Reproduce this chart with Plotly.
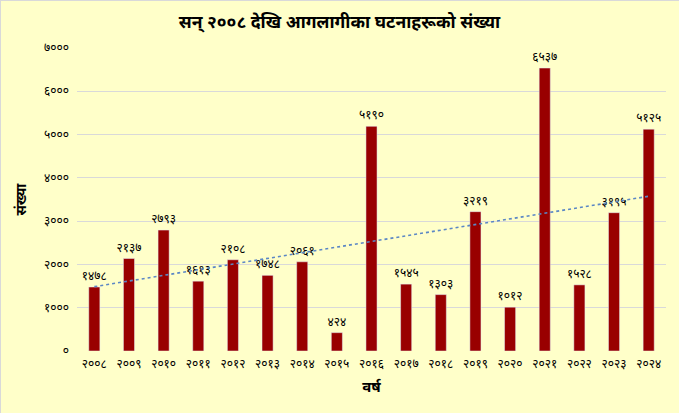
import numpy as np
import plotly.graph_objects as go

years = ["२००८", "२००९", "२०१०", "२०११", "२०१२", "२०१३", "२०१४", "२०१५", "२०१६",
         "२०१७", "२०१८", "२०१९", "२०२०", "२०२१", "२०२२", "२०२३", "२०२४"]
counts = [1478, 2137, 2793, 1613, 2108, 1748, 2061, 424, 5190,
          1545, 1303, 3219, 1012, 6537, 1528, 3195, 5125]
y_ticks = [0, 1000, 2000, 3000, 4000, 5000, 6000, 7000]

DEV = str.maketrans("0123456789", "०१२३४५६७८९")
def dev(n):
    return str(n).translate(DEV)

labels = [dev(v) for v in counts]
y_tick_text = [dev(v) for v in y_ticks]

xi = np.arange(len(counts))
slope, intercept = np.polyfit(xi, counts, 1)
trend = slope * xi + intercept

W, H = 679, 413
ml, mr, mt, mb = 77, 13, 48, 62
pw, ph = W - ml - mr, H - mt - mb

font = "Noto Sans, Noto Sans Devanagari, sans-serif"

fig = go.Figure()
fig.add_trace(go.Bar(
    x=years, y=counts, marker_color="#990000",
    text=labels, textposition="outside", cliponaxis=False,
    constraintext="none", textangle=0,
    textfont=dict(size=12, color="#000000", family=font),
    showlegend=False, hoverinfo="skip",
))
fig.add_trace(go.Scatter(
    x=years, y=trend, mode="lines",
    line=dict(color="#5B87C5", width=1.6, dash="dot"),
    showlegend=False, hoverinfo="skip",
))

fig.update_layout(
    width=W, height=H,
    margin=dict(l=ml, r=mr, t=mt, b=mb, autoexpand=False),
    paper_bgcolor="#FFFFC9", plot_bgcolor="#FFFFC9",
    bargap=0.68,
    font=dict(family=font, color="#000000"),
    title=dict(text="<b>सन् २००८ देखि आगलागीका घटनाहरूको संख्या</b>",
               x=0.5, xanchor="center", y=1 - 22 / H, yanchor="middle",
               font=dict(size=17.5, color="#000000", family=font)),
    xaxis=dict(
        automargin=False,
        tickfont=dict(size=12, family=font), showgrid=False, zeroline=False,
        showline=False, ticks="", ticklabelstandoff=4,
        title=dict(text="<b>वर्ष</b>", font=dict(size=15, family=font), standoff=10),
    ),
    yaxis=dict(
        automargin=False,
        range=[0, 7000], tickvals=y_ticks, ticktext=y_tick_text,
        tickfont=dict(size=12, family=font), showgrid=True, gridcolor="#D9D9D9",
        gridwidth=1, zeroline=False, showline=False, ticks="", ticklabelstandoff=7,
        title=dict(text="<b>संख्या</b>", font=dict(size=14, family=font), standoff=14),
    ),
    shapes=[
        dict(type="line", xref="paper", yref="paper",
             x0=-ml / pw, x1=1 + mr / pw, y0=1 + (mt - 0.5) / ph, y1=1 + (mt - 0.5) / ph,
             line=dict(color="#D9D9D9", width=1)),
        dict(type="line", xref="paper", yref="paper",
             x0=-(ml - 0.5) / pw, x1=-(ml - 0.5) / pw, y0=-mb / ph, y1=1 + mt / ph,
             line=dict(color="#D9D9D9", width=1)),
    ],
)

fig.write_html("out.html", config={"displayModeBar": False},
               post_script="document.body.style.margin='0';")
